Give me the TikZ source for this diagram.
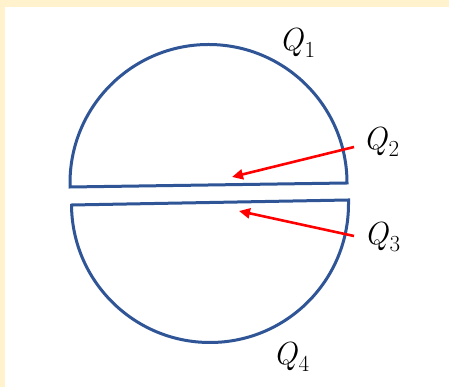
\documentclass[tikz,border=0pt]{standalone}
\usetikzlibrary{arrows.meta}
\definecolor{cream}{HTML}{FFF2CC}
\definecolor{shapeblue}{HTML}{2F5597}
\definecolor{arrred}{HTML}{FF0000}
\newcommand{\qlab}[1]{{\fontsize{32}{38}\selectfont\itshape Q}\kern1.5pt\raisebox{-7pt}{\fontsize{23}{28}\selectfont #1}}
\begin{document}
\begin{tikzpicture}[x=1pt,y=1pt,
  piece/.style={draw=shapeblue,line width=3pt,line join=miter},
  pointer/.style={draw=arrred,line width=2.6pt,-{Triangle[length=11pt,width=10pt]}},
  lbl/.style={inner sep=0pt,anchor=base west}]
\useasboundingbox (0,0) rectangle (449,387);
\fill[cream] (0,0) rectangle (449,387);
\fill[white] (5,0) rectangle (449,380);
% upper piece
\path[piece] (70,200) -- (70,204) arc[start angle=180,end angle=0,radius=138.5] -- cycle;
% lower piece
\path[piece] (71.5,182) -- (348.5,187) -- (348.5,183) arc[start angle=0,end angle=-180,radius=138.5] -- cycle;
% labels
\node[lbl] (q1) at (279,336) {\qlab{1}};
\node[lbl] (q2) at (363,237) {\qlab{2}};
\node[lbl] (q3) at (364,142) {\qlab{3}};
\node[lbl] (q4) at (273,22) {\qlab{4}};
% arrows
\coordinate (s2) at (354,240);
\coordinate (t2) at (232,210);
\coordinate (s3) at (354,151);
\coordinate (t3) at (239,176);
\draw[pointer] (s2) -- (t2);
\draw[pointer] (s3) -- (t3);
\end{tikzpicture}
\end{document}
